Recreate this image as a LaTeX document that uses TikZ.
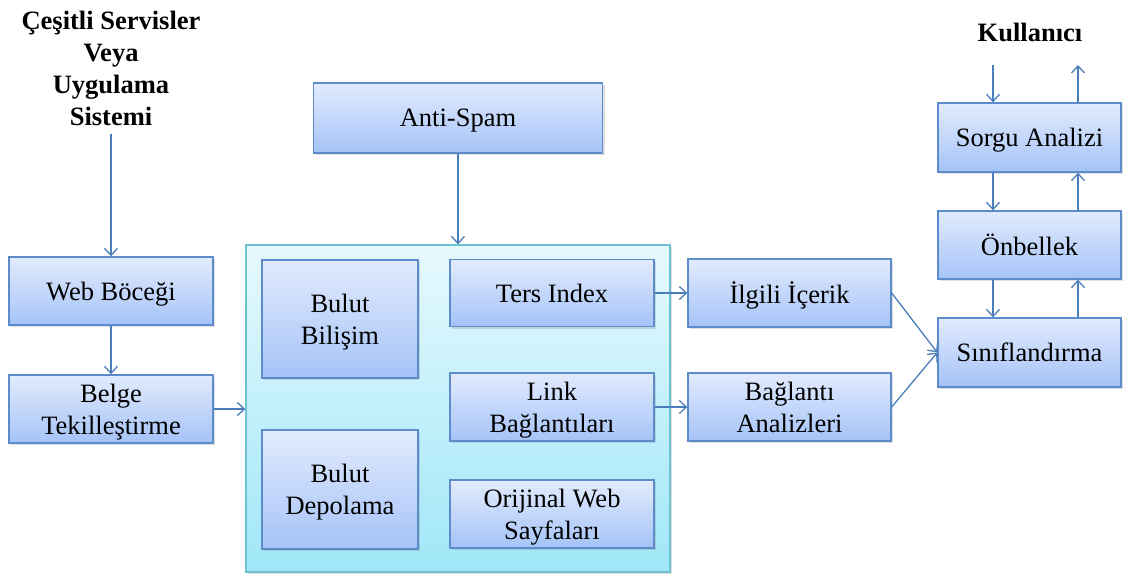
\documentclass[tikz,border=0pt]{standalone}
\usepackage{fontspec}
\setmainfont{Liberation Serif}
\usepackage{tikz}
\usetikzlibrary{arrows.meta,shadows}
\definecolor{procTop}{HTML}{E2EBFD}
\definecolor{procBottom}{HTML}{A5C3F8}
\definecolor{procLine}{HTML}{5C8CCB}
\definecolor{groupTop}{HTML}{E6F9FD}
\definecolor{groupBottom}{HTML}{A0E7F8}
\definecolor{groupLine}{HTML}{6DC2D1}
\definecolor{flowBlue}{HTML}{4A7EBB}
\tikzset{
  procbox/.style 2 args={rectangle, draw=procLine, line width=1.4pt, top color=procTop, bottom color=procBottom, align=center, font=\fontsize{26.5}{32}\selectfont, text depth=0pt, minimum width=#1, minimum height=#2, inner sep=2pt, drop shadow={shadow xshift=2pt, shadow yshift=-2pt, opacity=0.25}},
  groupbox/.style={rectangle, draw=groupLine, line width=1.4pt, top color=groupTop, bottom color=groupBottom, minimum width=424pt, minimum height=327pt, drop shadow={shadow xshift=2pt, shadow yshift=-2pt, opacity=0.25}},
  titlelabel/.style={font=\fontsize{26.5}{32}\selectfont\bfseries, align=center, inner sep=8pt},
  flowarrow/.style={-{Straight Barb[length=7pt,width=13pt]}, line width=1.3pt, draw=flowBlue},
}

\begin{document}
\begin{tikzpicture}[x=1pt,y=-1pt]
  \useasboundingbox (0,0) rectangle (1128,579);

  % --- left column ---
  \node[titlelabel] (servis) at (111,68) {Çeşitli Servisler\\Veya\\Uygulama\\Sistemi};
  \node[procbox={204pt}{68pt}] (web) at (111,291) {Web Böceği};
  \node[procbox={204pt}{68pt}] (belge) at (111,409) {Belge\\Tekilleştirme};

  % --- cloud group ---
  \node[procbox={289pt}{70pt}] (antispam) at (458,118) {Anti-Spam};
  \node[groupbox] (bulut) at (458,408.5) {};
  \node[procbox={156pt}{118pt}] (bilisim) at (340,319) {Bulut\\Bilişim};
  \node[procbox={156pt}{119pt}] (depolama) at (340,489.5) {Bulut\\Depolama};
  \node[procbox={204pt}{67pt}] (ters) at (552,293) {Ters Index};
  \node[procbox={204pt}{68pt}] (link) at (552,407) {Link\\Bağlantıları};
  \node[procbox={204pt}{68pt}] (orijinal) at (552,514) {Orijinal Web\\Sayfaları};

  \node[procbox={203pt}{68pt}] (ilgili) at (789.5,293) {İlgili İçerik};
  \node[procbox={203pt}{68pt}] (baglanti) at (789.5,407) {Bağlantı\\Analizleri};

  % --- right column ---
  \node[titlelabel] (kullanici) at (1030,32) {Kullanıcı};
  \node[procbox={183pt}{69pt}] (sorgu) at (1029.5,137.5) {Sorgu Analizi};
  \node[procbox={183pt}{68pt}] (onbellek) at (1029.5,245) {Önbellek};
  \node[procbox={183pt}{69pt}] (sinif) at (1029.5,352.5) {Sınıflandırma};
  \coordinate (kin) at (993,65);
  \coordinate (kout) at (1078,65);

  \draw[flowarrow] (servis.south) -- (web.north);
  \draw[flowarrow] (web) -- (belge);
  \draw[flowarrow] (belge.east) -- (belge.east -| bulut.west);
  \draw[flowarrow] (antispam.south) -- (bulut.north);
  \draw[flowarrow] (ters.east) -- (ilgili.west);
  \draw[flowarrow] (link.east) -- (baglanti.west);
  \draw[flowarrow] (ilgili.east) -- (sinif.west);
  \draw[flowarrow] (baglanti.east) -- (sinif.west);

  \draw[flowarrow] (kin) -- (kin |- sorgu.north);
  \draw[flowarrow] (kin |- sorgu.south) -- (kin |- onbellek.north);
  \draw[flowarrow] (kin |- onbellek.south) -- (kin |- sinif.north);
  \draw[flowarrow] (kout |- sinif.north) -- (kout |- onbellek.south);
  \draw[flowarrow] (kout |- onbellek.north) -- (kout |- sorgu.south);
  \draw[flowarrow] (kout |- sorgu.north) -- (kout);
\end{tikzpicture}
\end{document}
